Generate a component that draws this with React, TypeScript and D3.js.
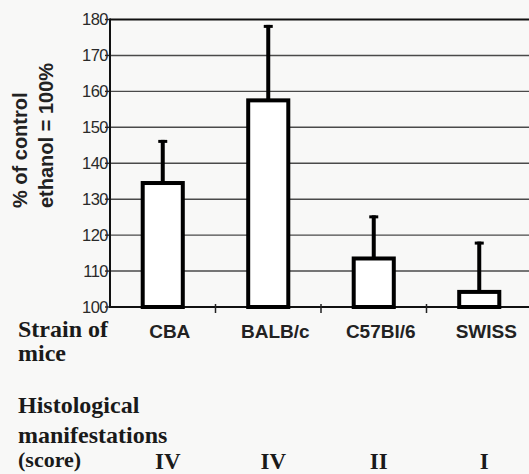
import React from 'react';
import * as d3 from 'd3';

const strains = ['CBA', 'BALB/c', 'C57Bl/6', 'SWISS'];
const means = [134.5, 157.5, 113.5, 104.2];
const errors = [12, 21, 12, 14];
const scores = ['IV', 'IV', 'II', 'I'];
const yTicks = [100, 110, 120, 130, 140, 150, 160, 170, 180];

const W = 529;
const H = 474;
const left = 110;
const top = 19.5;
const bottom = 307;

const x = d3.scaleBand<string>().domain(strains).range([left, left + 422]).paddingInner(0.62).paddingOuter(0.31);
const y = d3.scaleLinear().domain([100, 180]).range([bottom, top]);
const sans = 'Liberation Sans, Arial, sans-serif';
const serif = 'Liberation Serif, Times New Roman, serif';

export default function App() {
  const step = x.step();
  return (
    <svg width={W} height={H} style={{ position: 'absolute', left: 0, top: 0, background: '#f8f8f7' }}>
      {/* grid */}
      {yTicks.map((t) => (
        <g key={t}>
          <line x1={left} x2={W} y1={y(t)} y2={y(t)} stroke={t === 180 ? '#111' : '#4a4a4a'} strokeWidth={t === 180 ? 2 : 1.4} />
          <line x1={left - 5} x2={left} y1={y(t)} y2={y(t)} stroke="#222" strokeWidth={1.4} />
          <text x={left - 2} y={y(t)} dy="0.34em" textAnchor="end" fontFamily={sans} fontSize={16.5} fill="#2a2a2a" letterSpacing={-0.5}>
            {t}
          </text>
        </g>
      ))}
      <line x1={left} x2={left} y1={top - 1} y2={bottom + 1} stroke="#111" strokeWidth={2} />
      <line x1={left} x2={W} y1={bottom} y2={bottom} stroke="#111" strokeWidth={2} />
      {strains.slice(1).map((s) => (
        <line key={s} x1={x(s)! - step * 0.31} x2={x(s)! - step * 0.31} y1={bottom - 3} y2={bottom + 6} stroke="#222" strokeWidth={1.5} />
      ))}

      {/* bars */}
      {strains.map((s, i) => {
        const cx = x(s)! + x.bandwidth() / 2;
        const yTop = y(means[i] + errors[i]);
        return (
          <g key={s}>
            <line x1={cx} x2={cx} y1={y(means[i])} y2={yTop} stroke="#000" strokeWidth={4} />
            <line x1={cx - 4.5} x2={cx + 4.5} y1={yTop + 1.5} y2={yTop + 1.5} stroke="#000" strokeWidth={3} />
            <rect x={x(s)} y={y(means[i])} width={x.bandwidth()} height={bottom - y(means[i])} fill="#fff" stroke="#000" strokeWidth={4} />
          </g>
        );
      })}

      {/* y label */}
      <g fontFamily={sans} fontWeight="bold" fontSize={20} fill="#222">
        <text transform="translate(27,208) rotate(-90)">% of control</text>
        <text transform="translate(53,208) rotate(-90)">ethanol = 100%</text>
      </g>

      {/* category labels */}
      {strains.map((s) => (
        <text key={s} x={x(s)! + x.bandwidth() / 2 + 7} y={337.5} textAnchor="middle" fontFamily={sans} fontWeight="bold" fontSize={19} fill="#222">
          {s}
        </text>
      ))}

      <g fontFamily={serif} fontWeight="bold" fontSize={24} fill="#1a1a1a">
        <text x={18} y={337}>
          <tspan x={18}>Strain of</tspan>
          <tspan x={18} dy={24}>mice</tspan>
        </text>
        <text x={18} y={413}>
          <tspan x={18}>Histological</tspan>
          <tspan x={18} dy={30}>manifestations</tspan>
          <tspan x={18} dy={24} fontSize={22}>(score)</tspan>
        </text>
      </g>

      {scores.map((sc, i) => (
        <text key={i} x={x(strains[i])! + x.bandwidth() / 2 + 5} y={469} textAnchor="middle" fontFamily={serif} fontWeight="bold" fontSize={23} fill="#1a1a1a">
          {sc}
        </text>
      ))}
    </svg>
  );
}
